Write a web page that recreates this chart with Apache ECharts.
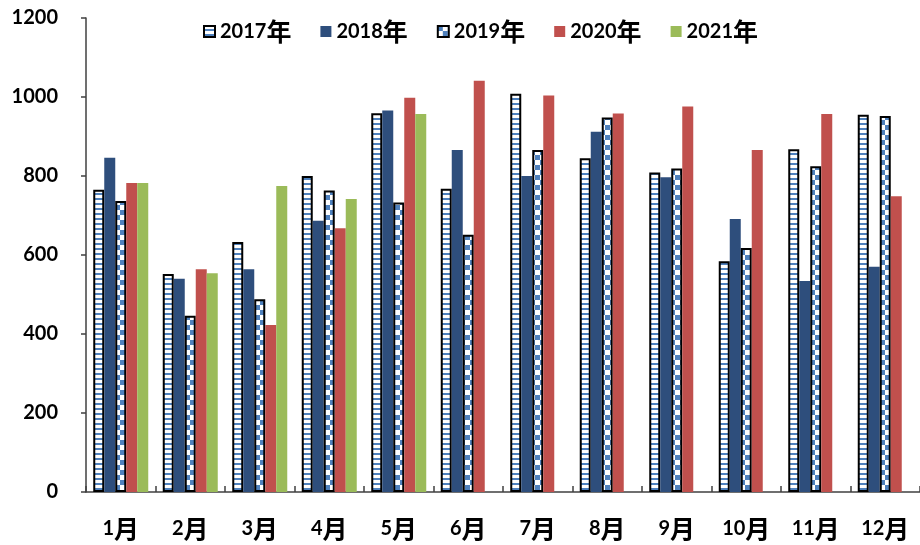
<!DOCTYPE html>
<html>
<head>
<meta charset="utf-8">
<script src="https://cdn.jsdelivr.net/npm/echarts@6/dist/echarts.min.js"></script>
<style>
  html, body { margin: 0; padding: 0; background: #ffffff; }
  #chart { width: 920px; height: 545px; }
</style>
</head>
<body>
<div id="chart"></div>
<script>
// Monthly values by year
const months = ['1月', '2月', '3月', '4月', '5月', '6月', '7月', '8月', '9月', '10月', '11月', '12月'];
const years = ['2017年', '2018年', '2019年', '2020年', '2021年'];
const s2017 = [765, 552, 633, 800, 959, 768, 1008, 845, 809, 584, 868, 955];
const s2018 = [846, 540, 564, 687, 966, 866, 800, 912, 797, 691, 534, 570];
const s2019 = [737, 446, 488, 763, 733, 651, 866, 948, 819, 618, 825, 952];
const s2020 = [782, 564, 423, 668, 998, 1041, 1004, 958, 976, 866, 957, 749];
const s2021 = [782, 554, 775, 742, 957, null, null, null, null, null, null, null];
const yTicks = { min: 0, max: 1200, interval: 200 };

const LATIN = 'Lato, sans-serif';
const CJK = '"Noto Sans CJK SC", sans-serif';
const STRIPE = '#4F81BD';

// Digits and CJK suffix drawn with separate rich styles
const rich = {
  n: { fontFamily: LATIN, fontSize: 20, fontWeight: 'bold', color: '#000000' },
  c: { fontFamily: CJK, fontSize: 25, fontWeight: 'bold', color: '#000000' }
};
function splitLabel(s) {
  const m = s.match(/^(\d+)(.*)$/);
  return m ? '{n|' + m[1] + '}{c|' + m[2] + '}' : s;
}

// Horizontal stripe fill
function stripePattern() {
  const c = document.createElement('canvas');
  c.width = 4; c.height = 5;
  const g = c.getContext('2d');
  g.fillStyle = '#ffffff'; g.fillRect(0, 0, 4, 5);
  g.fillStyle = STRIPE; g.fillRect(0, 3, 4, 2);
  return { image: c, repeat: 'repeat' };
}
// Checkerboard fill
function checkerPattern() {
  const c = document.createElement('canvas');
  c.width = 10; c.height = 10;
  const g = c.getContext('2d');
  g.fillStyle = '#ffffff'; g.fillRect(0, 0, 10, 10);
  g.fillStyle = STRIPE;
  g.fillRect(0, 0, 5, 5);
  g.fillRect(5, 5, 5, 5);
  return { image: c, repeat: 'repeat' };
}

const styles = [
  { color: stripePattern(), borderColor: '#000000', borderWidth: 2 },
  { color: '#2E4E7C' },
  { color: checkerPattern(), borderColor: '#000000', borderWidth: 2 },
  { color: '#C0504D' },
  { color: '#9BBB59' }
];
const values = [s2017, s2018, s2019, s2020, s2021];

const chart = echarts.init(document.getElementById('chart'), null, { renderer: 'canvas' });
chart.setOption({
  animation: false,
  backgroundColor: '#ffffff',
  legend: {
    top: 14,
    left: 198,
    itemWidth: 11,
    itemHeight: 11,
    itemGap: 29,
    icon: 'rect',
    formatter: splitLabel,
    textStyle: { rich: rich, padding: [0, 0, 0, 0] },
    data: years
  },
  grid: { left: 86, top: 18, width: 838, height: 474, containLabel: false },
  xAxis: {
    type: 'category',
    data: months,
    axisLine: { lineStyle: { color: '#404040', width: 1.5 } },
    axisTick: { show: true, inside: true, length: 6, lineStyle: { color: '#404040', width: 1.5 } },
    axisLabel: { interval: 0, formatter: splitLabel, rich: rich, margin: 24 }
  },
  yAxis: {
    type: 'value',
    min: yTicks.min, max: yTicks.max, interval: yTicks.interval,
    splitLine: { show: false },
    axisLine: { show: true, lineStyle: { color: '#404040', width: 1.5 } },
    axisTick: { show: true, inside: false, length: 5, lineStyle: { color: '#404040', width: 1.5 } },
    axisLabel: {
      formatter: v => String(v),
      fontFamily: LATIN, fontSize: 20, fontWeight: 'bold', color: '#000000', margin: 28
    }
  },
  series: years.map((name, i) => ({
    name: name,
    type: 'bar',
    data: values[i],
    barWidth: 11,
    barGap: '0%',
    itemStyle: styles[i],
    emphasis: { disabled: true }
  }))
});
</script>
</body>
</html>
